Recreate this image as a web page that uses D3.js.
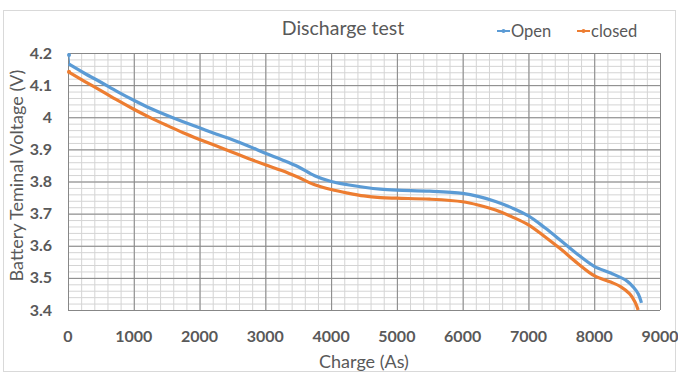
<!DOCTYPE html>
<html>
  <head>
    <meta charset="UTF-8" />
    <style>
      body {
        margin: 0;
        background-color: #ffffff;
      }
      svg {
        font-family: Lato, "Open Sans", sans-serif;
      }
      .major line {
        stroke: #878787;
      }
      .minor line {
        stroke: #d4d4d4;
      }
      .tick-label {
        fill: #595959;
        font-size: 16px;
        font-weight: bold;
      }
    </style>
  </head>

  <body>
    <svg width="678" height="372"></svg>

    <script src="https://d3js.org/d3.v7.min.js"></script>
    <script>
      // values
      const xTicks = [0, 1000, 2000, 3000, 4000, 5000, 6000, 7000, 8000, 9000];
      const yTicks = [3.4, 3.5, 3.6, 3.7, 3.8, 3.9, 4, 4.1, 4.2];

      const openCharge = [
        0, 10, 250, 500, 750, 1000, 1250, 1500, 1750, 2000, 2250, 2500, 2750,
        3000, 3250, 3500, 3750, 4000, 4250, 4500, 4750, 5000, 5500, 6000, 6250,
        6500, 6750, 7000, 7250, 7500, 7750, 8000, 8250, 8500, 8600, 8670, 8718,
      ];
      const openVolt = [
        4.194, 4.166, 4.137, 4.109, 4.08, 4.053, 4.028, 4.006, 3.986, 3.967,
        3.948, 3.93, 3.91, 3.888, 3.868, 3.846, 3.818, 3.8, 3.79, 3.782, 3.776,
        3.773, 3.77, 3.763, 3.753, 3.738, 3.718, 3.693, 3.656, 3.615, 3.573,
        3.536, 3.515, 3.49, 3.47, 3.45, 3.422,
      ];

      const closedCharge = [
        0, 250, 500, 750, 1000, 1250, 1500, 1750, 2000, 2250, 2500, 2750, 3000,
        3250, 3500, 3750, 4000, 4250, 4500, 4750, 5000, 5500, 6000, 6250, 6500,
        6750, 7000, 7250, 7500, 7750, 8000, 8250, 8400, 8540, 8620, 8668,
      ];
      const closedVolt = [
        4.142, 4.112, 4.083, 4.053, 4.025, 3.999, 3.975, 3.952, 3.931, 3.911,
        3.891, 3.871, 3.852, 3.834, 3.813, 3.79, 3.775, 3.764, 3.755, 3.75,
        3.748, 3.745, 3.737, 3.726, 3.711, 3.69, 3.665, 3.628, 3.588, 3.545,
        3.507, 3.487, 3.473, 3.45, 3.425, 3.4,
      ];

      const series = [
        { name: "Open", color: "#5b9bd5", charge: openCharge, volt: openVolt },
        { name: "closed", color: "#ed7d31", charge: closedCharge, volt: closedVolt },
      ];

      const svg = d3.select("svg");
      const plotLeft = 68,
        plotRight = 660,
        plotTop = 53,
        plotBottom = 310;
      const width = plotRight - plotLeft;
      const height = plotBottom - plotTop;

      // chart border
      svg
        .append("rect")
        .attr("x", 3.5)
        .attr("y", 10.5)
        .attr("width", 672)
        .attr("height", 361)
        .attr("fill", "none")
        .attr("stroke", "#d9d9d9");

      const x = d3.scaleLinear().domain([0, 9000]).range([0, width]);
      const y = d3.scaleLinear().domain([3.4, 4.2]).range([height, 0]);

      const chart = svg
        .append("g")
        .attr("transform", `translate(${plotLeft}, ${plotTop})`);

      // minor grid
      chart
        .append("g")
        .attr("class", "minor")
        .call(
          d3.axisBottom(x).tickValues(d3.range(0, 9001, 200)).tickSize(height).tickFormat("")
        )
        .call((g) => g.select(".domain").remove());
      chart
        .append("g")
        .attr("class", "minor")
        .call(
          d3
            .axisLeft(y)
            .tickValues(d3.range(0, 41).map((i) => 3.4 + i * 0.02))
            .tickSize(-width)
            .tickFormat("")
        )
        .call((g) => g.select(".domain").remove());

      // major grid
      chart
        .append("g")
        .attr("class", "major")
        .call(d3.axisBottom(x).tickValues(xTicks).tickSize(height).tickFormat(""))
        .call((g) => g.select(".domain").remove());
      chart
        .append("g")
        .attr("class", "major")
        .call(d3.axisLeft(y).tickValues(yTicks).tickSize(-width).tickFormat(""))
        .call((g) => g.select(".domain").remove());

      // tick labels
      chart
        .append("g")
        .selectAll("text")
        .data(xTicks)
        .join("text")
        .attr("class", "tick-label")
        .attr("x", (d) => x(d))
        .attr("y", height + 32)
        .attr("text-anchor", "middle")
        .text((d) => d);
      chart
        .append("g")
        .selectAll("text")
        .data(yTicks)
        .join("text")
        .attr("class", "tick-label")
        .attr("x", -16)
        .attr("y", (d) => y(d) + 5.5)
        .attr("text-anchor", "end")
        .text((d) => d);

      const line = d3
        .line()
        .x((d) => x(d[0]))
        .y((d) => y(d[1]))
        .curve(d3.curveCatmullRom.alpha(0.5));

      series.forEach((s) => {
        const pts = s.charge.map((c, i) => [c, s.volt[i]]);
        // a lone first reading sits above the curve, joined by a thin stroke
        const lead = s.charge[1] - s.charge[0] < 50 ? 1 : 0;
        if (lead) {
          chart
            .append("path")
            .datum(pts.slice(0, 2))
            .attr("fill", "none")
            .attr("stroke", s.color)
            .attr("stroke-width", 1)
            .attr("d", d3.line().x((d) => x(d[0]) + 1).y((d) => y(d[1])));
        }
        chart
          .append("path")
          .datum(pts.slice(lead))
          .attr("fill", "none")
          .attr("stroke", s.color)
          .attr("stroke-width", 3.2)
          .attr("stroke-linejoin", "round")
          .attr("d", line);
        chart
          .append("circle")
          .attr("cx", x(pts[0][0]) + 1)
          .attr("cy", y(pts[0][1]))
          .attr("r", 2)
          .attr("fill", s.color);
      });

      // title
      svg
        .append("text")
        .attr("x", 343)
        .attr("y", 35)
        .attr("text-anchor", "middle")
        .attr("fill", "#595959")
        .attr("font-size", "19.5px")
        .text("Discharge test");

      // legend
      const legend = svg
        .selectAll(".legend")
        .data(series)
        .join("g")
        .attr("class", "legend")
        .attr("transform", (d, i) => `translate(${497 + i * 80}, 31)`);
      legend
        .append("line")
        .attr("x1", 0)
        .attr("x2", 13)
        .attr("stroke", (d) => d.color)
        .attr("stroke-width", 2);
      legend
        .append("circle")
        .attr("cx", 6.5)
        .attr("r", 2)
        .attr("fill", (d) => d.color);
      legend
        .append("text")
        .attr("x", 14)
        .attr("y", 6)
        .attr("fill", "#595959")
        .attr("font-size", "16.5px")
        .text((d) => d.name);

      // axis titles
      svg
        .append("text")
        .attr("x", 364)
        .attr("y", 368)
        .attr("text-anchor", "middle")
        .attr("fill", "#595959")
        .attr("font-size", "18px")
        .text("Charge (As)");
      svg
        .append("text")
        .attr("transform", `translate(23, ${(plotTop + plotBottom) / 2 - 6}) rotate(-90)`)
        .attr("text-anchor", "middle")
        .attr("fill", "#595959")
        .attr("font-size", "18px")
        .text("Battery Teminal Voltage (V)");
    </script>
  </body>
</html>
